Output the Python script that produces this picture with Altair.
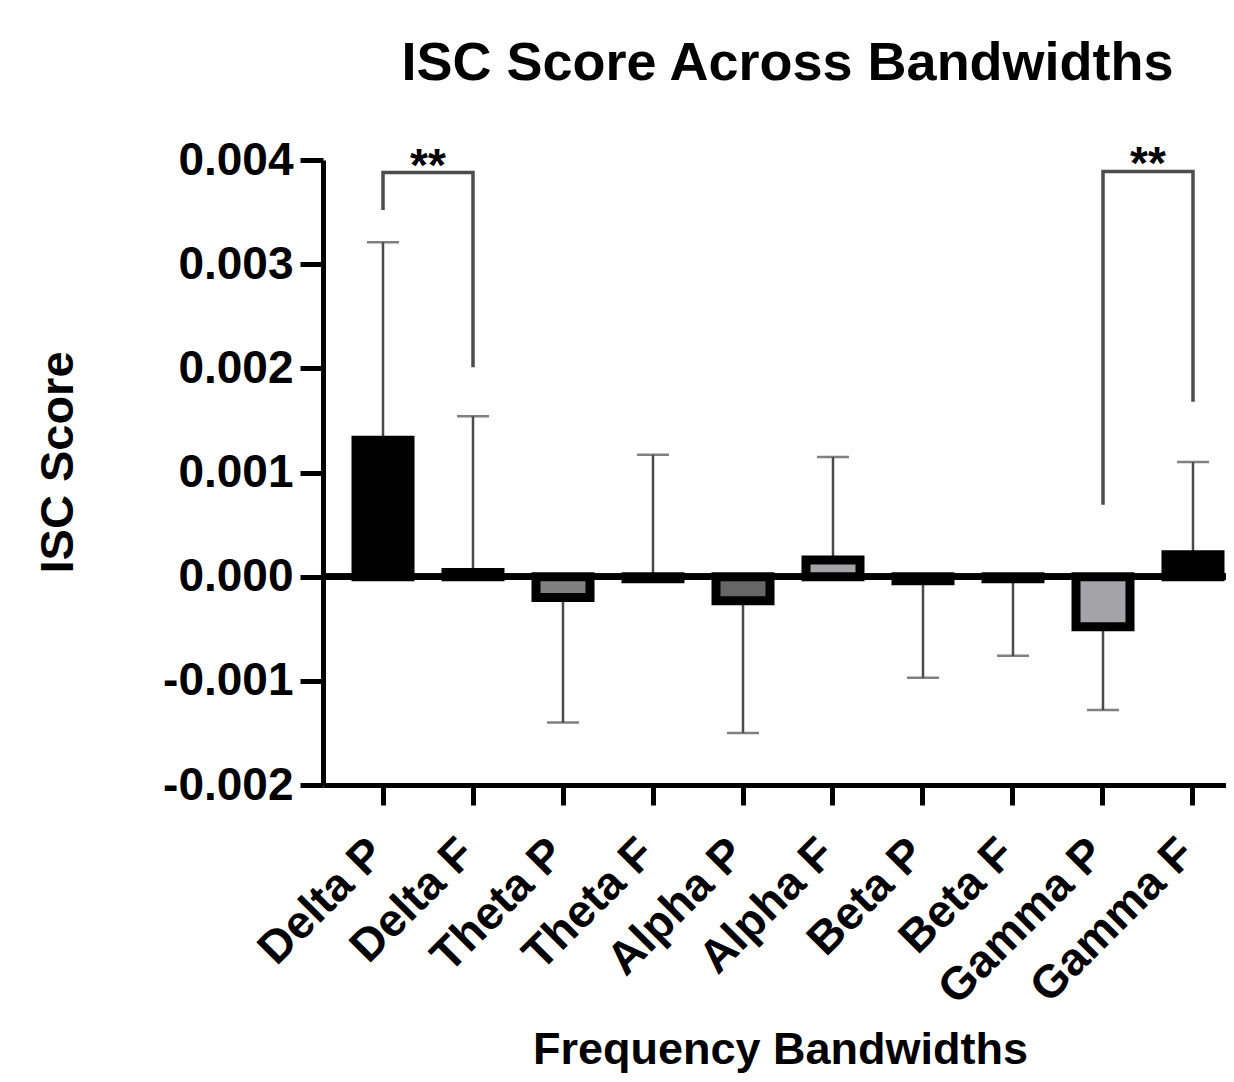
import altair as alt
import pandas as pd

categories = ["Delta P", "Delta F", "Theta P", "Theta F", "Alpha P",
              "Alpha F", "Beta P", "Beta F", "Gamma P", "Gamma F"]
means = [0.00131, 0.00004, -0.00020, -0.00002, -0.00023,
         0.00016, -0.00004, -0.00002, -0.00048, 0.00021]
err_ends = [0.00321, 0.00154, -0.00140, 0.00117, -0.00150,
            0.00115, -0.00097, -0.00076, -0.00128, 0.00110]
fill_colors = ["#000000", "#000000", "#808080", "#000000", "#666666",
               "#a3a3a8", "#000000", "#000000", "#a3a3a8", "#000000"]

# significance brackets: (left category, right category, left end, top, right end)
bracket_left = ["Delta P", "Gamma P"]
bracket_right = ["Delta F", "Gamma F"]
bracket_left_end = [0.00352, 0.00069]
bracket_top = [0.00388, 0.00389]
bracket_right_end = [0.00201, 0.00168]
bracket_label = ["**", "**"]

FONT = "Liberation Sans"

df = pd.DataFrame({"cat": categories, "mean": means, "err": err_ends})

rows = []
for i in range(len(bracket_left)):
    rows += [
        {"b": i, "o": 0, "cat": bracket_left[i], "v": bracket_left_end[i]},
        {"b": i, "o": 1, "cat": bracket_left[i], "v": bracket_top[i]},
        {"b": i, "o": 2, "cat": bracket_right[i], "v": bracket_top[i]},
        {"b": i, "o": 3, "cat": bracket_right[i], "v": bracket_right_end[i]},
    ]
br_df = pd.DataFrame(rows)
star_df = pd.DataFrame({"cat": bracket_left, "v": bracket_top, "t": bracket_label})

x_axis = alt.Axis(
    title="Frequency Bandwidths",
    labelAngle=-45, labelAlign="right", labelBaseline="middle",
    labelFont=FONT, labelFontSize=46, labelFontWeight="bold", labelColor="black",
    labelPadding=41, labelOffset=-6, labelLimit=0,
    domainColor="black", domainWidth=5,
    tickColor="black", tickWidth=5, tickSize=20,
    titleFont=FONT, titleFontSize=45, titleFontWeight="bold", titleColor="black",
    titleX=457, titleY=278, titleBaseline="alphabetic", titleAlign="center",
    labelOverlap=False,
)
x_scale = alt.Scale(domain=categories, range=[0, 930], paddingInner=0.4,
                    paddingOuter=0.36667, align=0.5)

def xe():
    return alt.X("cat:N", sort=categories, scale=x_scale, axis=x_axis)

y_axis = alt.Axis(
    title="ISC Score",
    values=[-0.002, -0.001, 0.0, 0.001, 0.002, 0.003, 0.004],
    labelExpr="replace(format(datum.value, '.3f'), '\u2212', '-')",
    labelFont=FONT, labelFontSize=46, labelFontWeight="bold", labelColor="black",
    labelPadding=7,
    domainColor="black", domainWidth=5,
    tickColor="black", tickWidth=5, tickSize=23,
    grid=False,
    titleFont=FONT, titleFontSize=47, titleFontWeight="bold", titleColor="black",
    titleX=-251, titleY=302, titleBaseline="alphabetic", titleAlign="center",
    titleAngle=-90,
)
y_scale = alt.Scale(domain=[-0.002, 0.004], nice=False, zero=False)

def ye(field):
    return alt.Y(field, type="quantitative", scale=y_scale, axis=y_axis, title="ISC Score")

base = alt.Chart(df)

err_rule = base.mark_rule(color="#4a4a4a", strokeWidth=2.5).encode(
    x=xe(), y=ye("mean"), y2="err")
err_cap = base.mark_tick(color="#4a4a4a", thickness=2.5, size=32).encode(
    x=xe(), y=ye("err"))
bars = base.mark_bar(stroke="black", strokeWidth=9).encode(
    x=xe(), y=ye("mean"),
    color=alt.Color("cat:N", scale=alt.Scale(domain=categories, range=fill_colors),
                    legend=None))
zero = base.mark_rule(color="black", strokeWidth=6).encode(
    y=alt.datum(0, type="quantitative", scale=y_scale, axis=y_axis, title="ISC Score"))
brackets = alt.Chart(br_df).mark_line(color="#4d4d4d", strokeWidth=3.5).encode(
    x=xe(), y=ye("v"), detail="b:N", order="o:Q")
stars = alt.Chart(star_df).mark_text(
    font=FONT, fontSize=46, fontWeight="bold", color="black",
    baseline="alphabetic", align="center", dx=45, dy=8).encode(
    x=xe(), y=ye("v"), text="t:N")

chart = alt.layer(err_rule, err_cap, bars, zero, brackets, stars).properties(
    width=903, height=625,
    background="white",
    title=alt.TitleParams("ISC Score Across Bandwidths", font=FONT, fontSize=54,
                          fontWeight="bold", color="black", anchor="middle",
                          frame="group", offset=46, dx=13),
    autosize=alt.AutoSizeParams(type="none"),
    padding={"left": 315, "top": 152, "right": 0, "bottom": 289},
).configure_view(stroke=None)

chart.save("out.html", embed_options={"renderer": "svg", "actions": False})
